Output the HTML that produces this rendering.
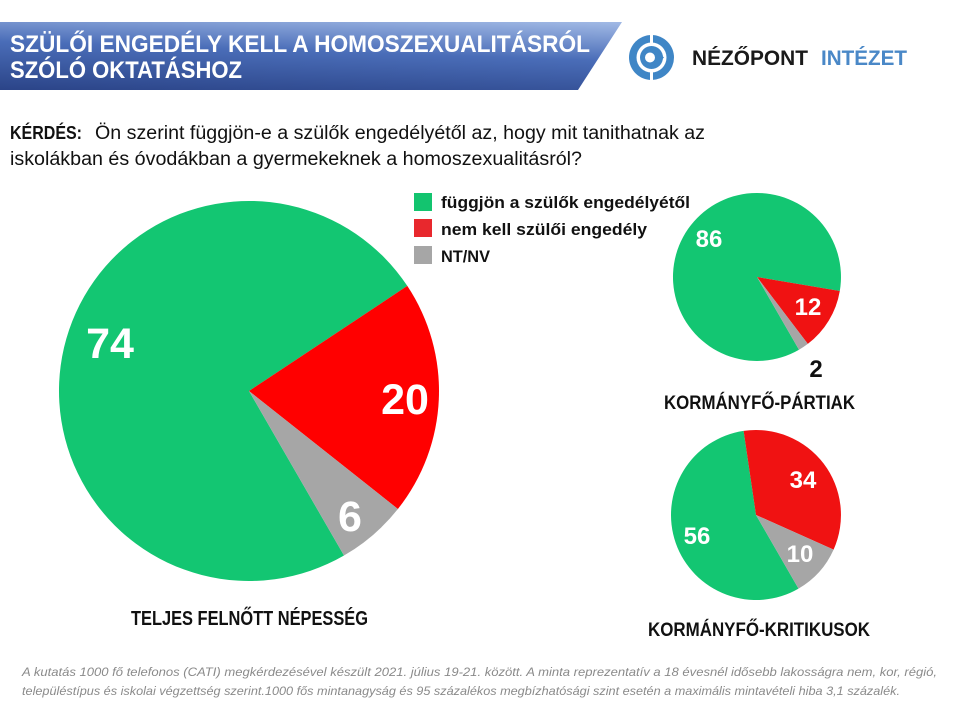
<!DOCTYPE html>
<html>
<head>
<meta charset="utf-8">
<style>
  html,body{margin:0;padding:0;background:#fff;}
  svg{display:block;}
  text{font-family:"Liberation Sans", Arial, sans-serif;}
</style>
</head>
<body>
<svg width="960" height="720" viewBox="0 0 960 720" xmlns="http://www.w3.org/2000/svg">
  <defs>
    <linearGradient id="bg" x1="0" y1="1" x2="0.35" y2="-0.2">
      <stop offset="0" stop-color="#2b4488"/>
      <stop offset="0.55" stop-color="#4a6db8"/>
      <stop offset="1" stop-color="#a3bbe6"/>
    </linearGradient>
  </defs>
  <rect width="960" height="720" fill="#ffffff"/>

  <!-- Title banner -->
  <polygon points="0,22 622,22 578,90 0,90" fill="url(#bg)"/>
  <text x="10" y="52" font-size="24" font-weight="bold" fill="#ffffff" textLength="580" lengthAdjust="spacingAndGlyphs">SZÜLŐI ENGEDÉLY KELL A HOMOSZEXUALITÁSRÓL</text>
  <text x="10" y="78" font-size="24" font-weight="bold" fill="#ffffff" textLength="232" lengthAdjust="spacingAndGlyphs">SZÓLÓ OKTATÁSHOZ</text>

  <!-- Logo -->
  <circle cx="651.5" cy="57.5" r="22.5" fill="#3f86c6"/>
  <circle cx="651.5" cy="57.5" r="15" fill="#ffffff"/>
  <circle cx="651.5" cy="57.5" r="11.5" fill="#3f86c6"/>
  <circle cx="650" cy="57.5" r="5" fill="#ffffff"/>
  <polygon points="656,50 664,57.5 656,65" fill="#3f86c6"/>
  <rect x="650" y="35" width="3" height="8" fill="#ffffff"/>
  <rect x="650" y="72" width="3" height="8" fill="#ffffff"/>
  <text x="692" y="65" font-size="21" font-weight="bold" fill="#1a1a1a" textLength="116" lengthAdjust="spacingAndGlyphs">NÉZŐPONT</text>
  <text x="821" y="65" font-size="21" fill="#4a88c7" textLength="86" lengthAdjust="spacingAndGlyphs" font-weight="bold">INTÉZET</text>

  <!-- Question -->
  <text x="10" y="139" font-size="18" font-weight="bold" fill="#111" textLength="72" lengthAdjust="spacingAndGlyphs">KÉRDÉS:</text>
  <text x="95" y="139" font-size="19" fill="#111" textLength="610" lengthAdjust="spacingAndGlyphs">Ön szerint függjön-e a szülők engedélyétől az, hogy mit tanithatnak az</text>
  <text x="10" y="165" font-size="19" fill="#111" textLength="572" lengthAdjust="spacingAndGlyphs">iskolákban és óvodákban a gyermekeknek a homoszexualitásról?</text>

  <!-- Legend -->
  <rect x="414" y="193" width="18" height="18" fill="#13c46f"/>
  <rect x="414" y="219" width="18" height="18" fill="#e8282d"/>
  <rect x="414" y="246" width="18" height="18" fill="#a6a6a6"/>
  <text x="441" y="208" font-size="17" font-weight="bold" fill="#111" textLength="249" lengthAdjust="spacingAndGlyphs">függjön a szülők engedélyétől</text>
  <text x="441" y="235" font-size="17" font-weight="bold" fill="#111" textLength="206" lengthAdjust="spacingAndGlyphs">nem kell szülői engedély</text>
  <text x="441" y="262" font-size="17" font-weight="bold" fill="#111" textLength="49" lengthAdjust="spacingAndGlyphs">NT/NV</text>

  <!-- Main pie -->
  <path d="M249,391 L344,555.5 A190,190 0 1 1 407.3,285.9 Z" fill="#13c672"/>
  <path d="M249,391 L407.3,285.9 A190,190 0 0 1 397.9,509 Z" fill="#ff0000"/>
  <path d="M249,391 L397.9,509 A190,190 0 0 1 344,555.5 Z" fill="#a6a6a6"/>
  <text x="110" y="358" font-size="43" font-weight="bold" fill="#ffffff" text-anchor="middle">74</text>
  <text x="405" y="414" font-size="43" font-weight="bold" fill="#ffffff" text-anchor="middle">20</text>
  <text x="350" y="531" font-size="43" font-weight="bold" fill="#ffffff" text-anchor="middle">6</text>
  <text x="131" y="625" font-size="20" font-weight="bold" fill="#111" textLength="237" lengthAdjust="spacingAndGlyphs">TELJES FELNŐTT NÉPESSÉG</text>

  <!-- Pie 2 -->
  <path d="M757,277 L799,349.7 A84,84 0 1 1 839.8,291 Z" fill="#13c672"/>
  <path d="M757,277 L839.8,291 A84,84 0 0 1 807.8,343.9 Z" fill="#f01212"/>
  <path d="M757,277 L807.8,343.9 A84,84 0 0 1 799,349.7 Z" fill="#a6a6a6"/>
  <text x="709" y="247" font-size="24" font-weight="bold" fill="#ffffff" text-anchor="middle">86</text>
  <text x="808" y="315" font-size="24" font-weight="bold" fill="#ffffff" text-anchor="middle">12</text>
  <text x="816" y="377" font-size="24" font-weight="bold" fill="#111" text-anchor="middle">2</text>
  <text x="664" y="409" font-size="19" font-weight="bold" fill="#111" textLength="191" lengthAdjust="spacingAndGlyphs">KORMÁNYFŐ-PÁRTIAK</text>

  <!-- Pie 3 -->
  <path d="M756,515 L798.5,588.6 A85,85 0 1 1 743.6,430.9 Z" fill="#13c672"/>
  <path d="M756,515 L743.6,430.9 A85,85 0 0 1 833.6,549.6 Z" fill="#f01212"/>
  <path d="M756,515 L833.6,549.6 A85,85 0 0 1 798.5,588.6 Z" fill="#a6a6a6"/>
  <text x="803" y="488" font-size="24" font-weight="bold" fill="#ffffff" text-anchor="middle">34</text>
  <text x="697" y="544" font-size="24" font-weight="bold" fill="#ffffff" text-anchor="middle">56</text>
  <text x="800" y="562" font-size="24" font-weight="bold" fill="#ffffff" text-anchor="middle">10</text>
  <text x="648" y="636" font-size="19" font-weight="bold" fill="#111" textLength="222" lengthAdjust="spacingAndGlyphs">KORMÁNYFŐ-KRITIKUSOK</text>

  <!-- Footer -->
  <text x="22" y="676" font-size="12" font-style="italic" fill="#8a8a8a" textLength="915" lengthAdjust="spacingAndGlyphs">A kutatás 1000 fő telefonos (CATI) megkérdezésével készült 2021. július 19-21. között. A minta reprezentatív a 18 évesnél idősebb lakosságra nem, kor, régió,</text>
  <text x="22" y="695" font-size="12" font-style="italic" fill="#8a8a8a" textLength="878" lengthAdjust="spacingAndGlyphs">településtípus és iskolai végzettség szerint.1000 fős mintanagyság és 95 százalékos megbízhatósági szint esetén a maximális mintavételi hiba 3,1 százalék.</text>
</svg>
</body>
</html>
